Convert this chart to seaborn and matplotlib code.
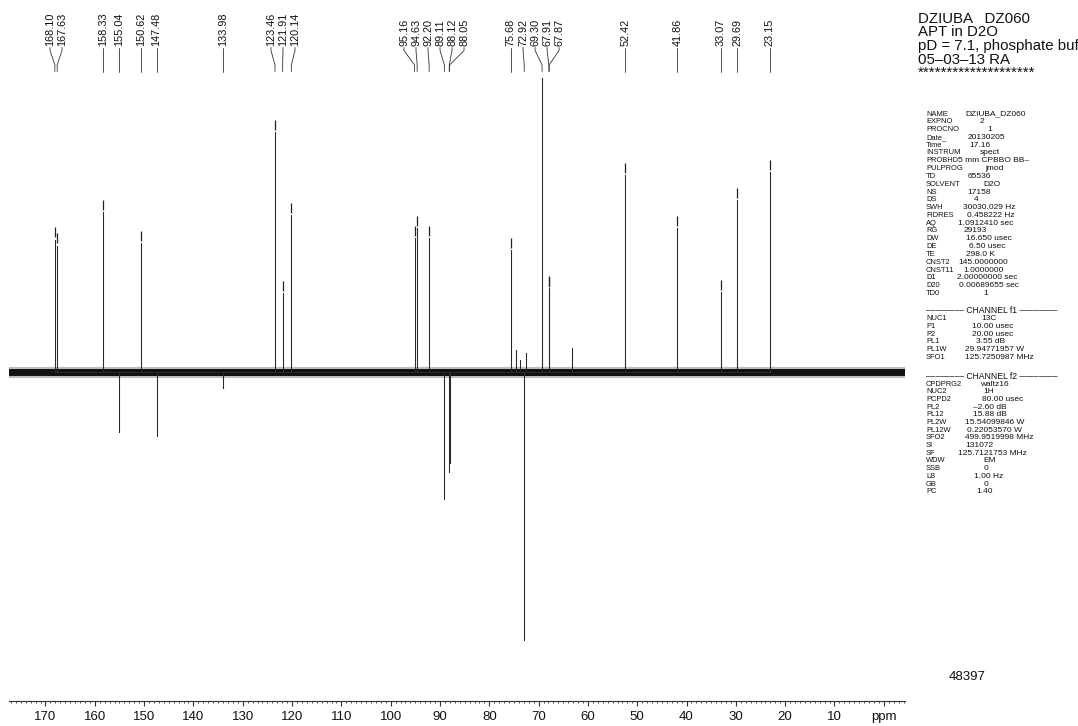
import matplotlib
matplotlib.use("Agg")
import matplotlib.pyplot as plt
from matplotlib.lines import Line2D
from matplotlib.transforms import IdentityTransform
import pandas as pd
import seaborn as sns

# picked 13C APT signals (ppm) and relative intensity (tallest = 100, CH/CH3 negative)
peak_ppm = [168.10, 167.63, 158.33, 155.04, 150.62, 147.48, 133.98, 123.46, 121.91,
            120.14, 95.16, 94.63, 92.20, 89.11, 88.12, 88.05, 75.68, 72.92, 69.30,
            67.91, 67.87, 52.42, 41.86, 33.07, 29.69, 23.15]
peak_intensity = [45.0, 43.0, 54.4, -20.4, 43.9, -21.8, -5.4, 81.6, 26.9,
                  53.4, 45.6, 49.0, 45.6, -43.2, -34.0, -31.0, 41.5, -91.2, 100.0,
                  28.6, 28.0, 67.0, 49.0, 27.2, 58.5, 68.0]

# small unlabelled signals
minor_ppm = [74.5, 73.7, 72.5, 63.2]
minor_intensity = [7.5, 4.0, 6.5, 8.2]

major_ticks = [170, 160, 150, 140, 130, 120, 110, 100, 90, 80, 70, 60, 50, 40, 30, 20, 10, 0]
major_tick_labels = ["170", "160", "150", "140", "130", "120", "110", "100", "90", "80",
                     "70", "60", "50", "40", "30", "20", "10", "ppm"]

title_lines = ["DZIUBA   DZ060", "APT in D2O", "pD = 7.1, phosphate buffer",
               "05\u201303\u201313 RA", "********************"]

acq_names = ["NAME", "EXPNO", "PROCNO", "Date_", "Time", "INSTRUM", "PROBHD", "PULPROG",
             "TD", "SOLVENT", "NS", "DS", "SWH", "FIDRES", "AQ", "RG", "DW", "DE", "TE",
             "CNST2", "CNST11", "D1", "D20", "TD0"]
acq_values = ["DZIUBA_DZ060", "2", "1", "20130205", "17.16", "spect", "5 mm CPBBO BB\u2013",
              "jmod", "65536", "D2O", "17158", "4", "30030.029 Hz", "0.458222 Hz",
              "1.0912410 sec", "29193", "16.650 usec", "6.50 usec", "298.0 K",
              "145.0000000", "1.0000000", "2.00000000 sec", "0.00689655 sec", "1"]
f1_names = ["NUC1", "P1", "P2", "PL1", "PL1W", "SFO1"]
f1_values = ["13C", "10.00 usec", "20.00 usec", "3.55 dB", "29.94771957 W", "125.7250987 MHz"]
f2_names = ["CPDPRG2", "NUC2", "PCPD2", "PL2", "PL12", "PL2W", "PL12W", "SFO2", "SI", "SF",
            "WDW", "SSB", "LB", "GB", "PC"]
f2_values = ["waltz16", "1H", "80.00 usec", "\u20132.60 dB", "15.88 dB", "15.54099846 W",
             "0.22053570 W", "499.9519998 MHz", "131072", "125.7121753 MHz", "EM", "0",
             "1.00 Hz", "0", "1.40"]
plot_number = "48397"

# layout: x start (px) of each value column entry
acq_x = [965, 980, 987.5, 967.5, 969.5, 980, 958, 985, 968, 983, 967, 974, 963, 967,
         958, 964, 966, 969, 966, 958, 963, 957, 959, 983.5]
f1_x = [981, 972, 972, 976, 965, 965]
f2_x = [980, 983, 982, 973, 973, 965, 967, 965, 965, 958, 983, 983.5, 974, 983.5, 976]

W, H = 1078, 726
sns.set_style("white")
plt.rcParams["font.family"] = ["Liberation Sans", "DejaVu Sans"]

fig = plt.figure(figsize=(W / 100, H / 100), dpi=100)
ax = fig.add_axes([9 / W, 25 / H, 896 / W, 701 / H])

rows = []
for p, h in sorted(zip(peak_ppm + minor_ppm, peak_intensity + minor_intensity), reverse=True):
    rows += [(p, 0.0), (p, h), (p, 0.0)]
spec = pd.DataFrame(rows, columns=["ppm", "intensity"])

ax.axhline(0, color="#444444", lw=8.0, alpha=0.35, zorder=1)
ax.axhline(0, color="#111111", lw=5.0, zorder=2)
sns.lineplot(data=spec, x="ppm", y="intensity", sort=False, estimator=None,
             color="#2a2a2a", lw=0.75, ax=ax, zorder=3)

ax.set_xlim(177.4, -4.3)
ax.set_ylim(-111.9, 126.5)
ax.set_xlabel("")
ax.set_ylabel("")
ax.set_yticks([])
ax.set_xticks(major_ticks)
ax.set_xticklabels(major_tick_labels)
ax.set_xticks(range(-4, 178), minor=True)
ax.tick_params(axis="x", which="major", bottom=True, length=3.4, width=0.8, direction="out",
               labelsize=9.5, pad=4.0, color="#333333", labelcolor="#111111")
ax.tick_params(axis="x", which="minor", bottom=True, length=1.4, width=0.6, direction="out",
               color="#333333")
for side in ["top", "left", "right"]:
    ax.spines[side].set_visible(False)
ax.spines["bottom"].set_linewidth(0.8)
ax.spines["bottom"].set_color("#333333")

# peak-pick markers above positive peaks
for p, h in zip(peak_ppm, peak_intensity):
    if 0 < h < 95:
        ax.vlines(p, h + 0.8, h + 4.2, color="#222222", lw=0.9, zorder=3)

# peak labels at the top, spread so they do not overlap
gap = 12.0
px = [ax.transData.transform((p, 0))[0] for p in peak_ppm]


def spread(group):
    c = sum(group) / len(group)
    n = len(group)
    return [c + (k - (n - 1) / 2) * gap for k in range(n)]


groups = [[x] for x in px]
merged = True
while merged:
    merged = False
    for i in range(len(groups) - 1):
        if spread(groups[i + 1])[0] - spread(groups[i])[-1] < gap - 0.01:
            groups[i] = groups[i] + groups.pop(i + 1)
            merged = True
            break
label_x = [x for g in groups for x in spread(g)]

ident = IdentityTransform()
for p, x0, lx in zip(peak_ppm, px, label_x):
    fig.text(lx, H - 46.5, f"{p:.2f}", rotation=90, ha="center", va="bottom",
             fontsize=7.8, color="#111111", transform=ident)
    ys = [H - 47.5, H - 50.5, H - 65, H - 71.5]
    xs = [lx, lx, x0, x0]
    fig.add_artist(Line2D(xs, ys, transform=ident, color="#333333", lw=0.6))

# header text on the right
title_y = [19, 32.5, 46, 59.5, 73]
for t, y in zip(title_lines, title_y):
    fig.text(918 / W, 1 - y / H, t, fontsize=10.8, ha="left", va="center",
             color="#111111")


def param_block(names, values, xs, y0, step=7.8):
    for k, (n, v, x) in enumerate(zip(names, values, xs)):
        y = 1 - (y0 + k * step) / H
        fig.text(926 / W, y, n, fontsize=5.4, ha="left", va="center", color="#111111")
        fig.text(x / W, y, v, fontsize=6.0, ha="left", va="center", color="#111111")


param_block(acq_names, acq_values, acq_x, 114)
dash = "\u2013" * 8
fig.text(926 / W, 1 - 311 / H, f"{dash} CHANNEL f1 {dash}", fontsize=6.2,
         ha="left", va="center", color="#111111")
param_block(f1_names, f1_values, f1_x, 318.5)
fig.text(926 / W, 1 - 376.5 / H, f"{dash} CHANNEL f2 {dash}", fontsize=6.2,
         ha="left", va="center", color="#111111")
param_block(f2_names, f2_values, f2_x, 384, step=7.7)

fig.text(967 / W, 1 - 677 / H, plot_number, fontsize=9.5, ha="center", va="center",
         color="#111111")

fig.savefig("out.png", dpi=100)
plt.close(fig)
